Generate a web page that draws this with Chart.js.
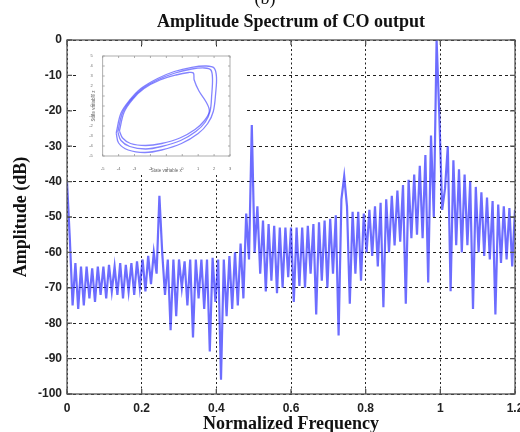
<!DOCTYPE html>
<html>
<head>
<meta charset="utf-8">
<script src="https://cdn.jsdelivr.net/npm/chart.js@4.4.1/dist/chart.umd.min.js"></script>
<style>
  html, body { margin: 0; padding: 0; background: #fff; overflow: hidden; }
  #wrap { position: relative; width: 520px; height: 432px; overflow: hidden; }
  #spectrum { position: absolute; left: 0; top: 0; }
  #orbit { position: absolute; left: 77px; top: 47px; background: #fff; }
</style>
</head>
<body>
<div id="wrap">
  <canvas id="spectrum" width="540" height="432"></canvas>
  <canvas id="orbit" width="168" height="126"></canvas>
</div>
<script>
// FFT bin spacing of the spectrum (normalized frequency)
const binWidth = 0.0075;

// amplitude per bin, dB
const amplitudeDb = [
  -40, -56, -75, -63, -76, -64, -75, -64, -73, -64.5,
  -74, -64, -72, -64, -73, -63.5, -71, -64, -72, -63,
  -73, -63.5, -71, -63, -72, -62.5, -70, -62, -71, -61,
  -69, -60, -66, -44, -60, -72, -62, -82, -62, -78,
  -62, -70, -62.5, -75, -62, -84, -62, -73, -62, -76,
  -62, -88, -61.5, -74, -62, -96, -62, -78, -61, -76,
  -60, -75, -57.5, -73, -49, -62, -24, -60, -47, -66,
  -51, -71, -52, -68, -52.5, -71.5, -53, -70, -53, -67,
  -53, -74, -53, -69.5, -53, -70, -52.5, -66, -52, -77.5,
  -51.5, -68, -51, -70, -50.5, -66, -49.5, -83.5, -45, -38.5,
  -47, -74.5, -48.5, -66, -48.5, -68, -49, -60, -48, -61,
  -47, -64, -46, -75.5, -45, -60, -44, -58, -42.5, -57,
  -41, -74.5, -39.5, -56, -38, -55, -35.5, -56, -32.5, -68.5,
  -27, -50, 0, -22, -48, -42, -30, -71, -34, -58,
  -36.5, -60, -38, -58, -40, -76, -41.5, -60, -43, -61,
  -44.5, -62, -45.5, -77.5, -46.5, -63, -47, -62, -47.5, -64,
  -48
];

const freqTicks = [0, 0.2, 0.4, 0.6, 0.8, 1, 1.2];
const dbTicks = [0, -10, -20, -30, -40, -50, -60, -70, -80, -90, -100];

// phase portrait of the oscillator (three turns of the limit cycle)
const outerX = [-4.15, -3.85, -3.3, -2.6, -1.55, -0.5, 0.6, 1.5, 2.0, 2.15, 2.1, 1.95, 1.6, 1.0, -0.05, -1.3, -2.35, -3.4, -4.0, -4.15];
const outerZ = [-2.7, -0.7, 0.6, 1.75, 2.75, 3.45, 3.87, 4.0, 3.8, 2.9, 1.3, -0.55, -1.75, -2.75, -3.75, -4.4, -4.65, -4.4, -3.7, -2.7];
const middleX = [-4.05, -3.75, -3.2, -2.5, -1.5, -0.45, 0.6, 1.4, 1.8, 1.9, 1.85, 1.75, 1.45, 0.85, -0.1, -1.3, -2.3, -3.3, -3.85, -4.05];
const middleZ = [-2.6, -0.65, 0.65, 1.75, 2.65, 3.3, 3.7, 3.8, 3.6, 2.7, 1.1, -0.5, -1.6, -2.55, -3.45, -4.05, -4.3, -4.05, -3.45, -2.6];
const innerX = [-3.95, -3.65, -3.1, -2.4, -1.4, -0.4, 0.4, 0.7, 0.75, 1.05, 1.5, 1.7, 1.4, 0.8, -0.15, -1.3, -2.3, -3.25, -3.75, -3.95];
const innerZ = [-2.5, -0.6, 0.7, 1.75, 2.6, 3.1, 3.35, 3.3, 2.6, 1.5, 0.4, -0.5, -1.45, -2.35, -3.2, -3.75, -3.95, -3.75, -3.2, -2.5];

const orbitXTicks = [-5, -4, -3, -2, -1, 0, 1, 2, 3];
const orbitZTicks = [-5, -4, -3, -2, -1, 0, 1, 2, 3, 4, 5];

// axes box with inward tick marks on all four sides
const boxFrame = {
  id: 'boxFrame',
  afterDraw(chart, args, opts) {
    const { ctx, chartArea: a, scales: { x, y } } = chart;
    ctx.save();
    ctx.strokeStyle = opts.color;
    ctx.lineWidth = opts.width;
    ctx.beginPath();
    x.ticks.forEach(t => {
      const px = x.getPixelForValue(t.value);
      ctx.moveTo(px, a.bottom); ctx.lineTo(px, a.bottom - opts.tick);
      ctx.moveTo(px, a.top); ctx.lineTo(px, a.top + opts.tick);
    });
    y.ticks.forEach(t => {
      const py = y.getPixelForValue(t.value);
      ctx.moveTo(a.left, py); ctx.lineTo(a.left + opts.tick, py);
      ctx.moveTo(a.right, py); ctx.lineTo(a.right - opts.tick, py);
    });
    ctx.stroke();
    ctx.strokeRect(a.left, a.top, a.right - a.left, a.bottom - a.top);
    ctx.restore();
  }
};

// panel letter above the title
const panelTag = {
  id: 'panelTag',
  afterDraw(chart, args, opts) {
    const ctx = chart.ctx;
    ctx.save();
    ctx.font = opts.font;
    ctx.fillStyle = opts.color;
    ctx.textAlign = 'center';
    ctx.textBaseline = 'alphabetic';
    ctx.fillText(opts.text, opts.x, opts.y);
    ctx.restore();
  }
};

const tickFont = { family: 'Liberation Sans', size: 12, weight: 'bold' };
const labelFont = { family: 'Liberation Serif', size: 18, weight: 'bold' };

new Chart(document.getElementById('spectrum'), {
  type: 'line',
  data: {
    datasets: [{
      data: amplitudeDb.map((db, i) => ({ x: i * binWidth, y: db })),
      borderColor: 'rgba(40, 40, 255, 0.68)',
      borderWidth: 2.2,
      pointRadius: 0,
      tension: 0
    }]
  },
  options: {
    responsive: false,
    animation: false,
    layout: { padding: { left: 0, right: 25, top: 0, bottom: 0 } },
    plugins: {
      legend: { display: false },
      tooltip: { enabled: false },
      title: {
        display: true,
        fullSize: false,
        text: 'Amplitude Spectrum of CO output',
        font: labelFont,
        color: '#111',
        padding: { top: 11.2, bottom: 7.2 }
      },
      boxFrame: { color: '#555', width: 1.3, tick: 5 },
      panelTag: { text: '(b)', x: 265, y: 3.5, font: '18px "Liberation Serif"', color: '#111' }
    },
    scales: {
      x: {
        type: 'linear',
        min: 0,
        max: 1.2,
        afterBuildTicks: axis => { axis.ticks = freqTicks.map(value => ({ value })); },
        afterFit: scale => { scale.height = 38; },
        grid: { color: '#222', lineWidth: 1, drawTicks: false },
        border: { display: false, dash: [2, 2.5] },
        ticks: {
          font: tickFont, color: '#222', padding: 7,
          maxRotation: 0, autoSkip: false,
          callback: v => String(+v.toFixed(1))
        },
        title: {
          display: true, text: 'Normalized Frequency',
          font: labelFont, color: '#111',
          padding: { top: 0, bottom: -3 }
        }
      },
      y: {
        min: -100,
        max: 0,
        afterBuildTicks: axis => { axis.ticks = dbTicks.map(value => ({ value })); },
        afterFit: scale => { scale.width = 67; },
        grid: { color: '#222', lineWidth: 1, drawTicks: false },
        border: { display: false, dash: [3, 3] },
        ticks: { font: tickFont, color: '#222', padding: 5, autoSkip: false },
        title: {
          display: true, text: 'Amplitude (dB)',
          font: labelFont, color: '#111',
          padding: { top: 10.7, bottom: 0 }
        }
      }
    }
  },
  plugins: [boxFrame, panelTag]
});

// inset: state-space trajectory
const orbits = [[outerX, outerZ], [middleX, middleZ], [innerX, innerZ]];
const tinyFont = { family: 'Liberation Sans', size: 4 };

new Chart(document.getElementById('orbit'), {
  type: 'scatter',
  data: {
    datasets: orbits.map(([xs, zs]) => ({
      data: xs.map((v, i) => ({ x: v, y: zs[i] })),
      showLine: true,
      borderColor: 'rgba(50, 50, 255, 0.6)',
      borderWidth: 1.3,
      pointRadius: 0,
      tension: 0.35
    }))
  },
  options: {
    responsive: false,
    animation: false,
    layout: { padding: { left: 0, right: 15, top: 9, bottom: 0 } },
    plugins: {
      legend: { display: false },
      tooltip: { enabled: false },
      boxFrame: { color: '#999', width: 0.8, tick: 2 }
    },
    scales: {
      x: {
        type: 'linear', min: -5, max: 3,
        afterBuildTicks: axis => { axis.ticks = orbitXTicks.map(value => ({ value })); },
        afterFit: scale => { scale.height = 17; },
        grid: { display: false },
        border: { display: false },
        ticks: { font: tinyFont, color: '#666', padding: 2, maxRotation: 0, autoSkip: false },
        title: { display: true, text: 'State variable x', font: { family: 'Liberation Sans', size: 4.5 }, color: '#666', padding: 0 }
      },
      y: {
        type: 'linear', min: -5, max: 5,
        afterBuildTicks: axis => { axis.ticks = orbitZTicks.map(value => ({ value })); },
        afterFit: scale => { scale.width = 25.7; },
        grid: { display: false },
        border: { display: false },
        ticks: { font: tinyFont, color: '#666', padding: 2, autoSkip: false },
        title: { display: true, text: 'State variable z', font: { family: 'Liberation Sans', size: 4.5 }, color: '#666', padding: { top: 14 } }
      }
    }
  },
  plugins: [boxFrame]
});
</script>
</body>
</html>
